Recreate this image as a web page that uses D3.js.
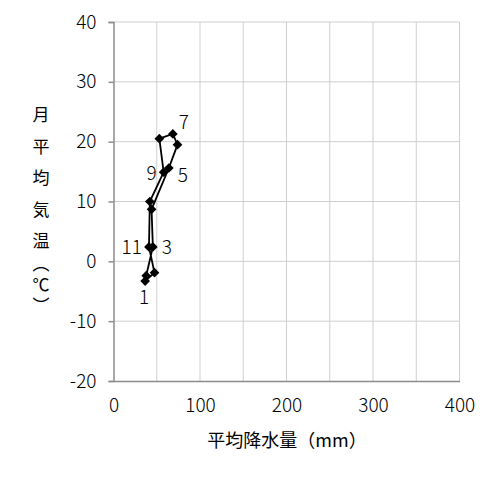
<!DOCTYPE html>
<html>
<head>
<meta charset="utf-8">
<script src="https://cdn.jsdelivr.net/npm/d3@7"></script>
<style>
body { margin: 0; background: #fff; }
text { font-family: "Noto Sans CJK JP", "Noto Sans", sans-serif; fill: #000; font-weight: 300; }
</style>
</head>
<body>
<div id="chart"></div>
<script>
// monthly values, Jan..Dec
var months = [1, 2, 3, 4, 5, 6, 7, 8, 9, 10, 11, 12];
var rain = [36.6, 37.8, 45.5, 44, 64, 74, 68.6, 53, 58, 42, 41, 47.4];
var temp = [-3.3, -2.4, 2.4, 8.7, 15.6, 19.5, 21.3, 20.5, 14.9, 10, 2.4, -1.9];
var labeled = [1, 3, 5, 7, 9, 11];
var xTicks = [0, 100, 200, 300, 400];
var yTicks = [-20, -10, 0, 10, 20, 30, 40];
var yTitle = ["月平均気温", "（℃）"];
var xTitle = "平均降水量（mm）";

var width = 500, height = 482;
var mLeft = 113.5, mRight = 459.5, mTop = 22, mBottom = 381;

var svg = d3.select("#chart").append("svg")
    .attr("width", width)
    .attr("height", height);

var x = d3.scaleLinear().domain([0, 400]).range([mLeft, mRight]);
var y = d3.scaleLinear().domain([-20, 40]).range([mBottom, mTop]);

// grid
svg.append("g").selectAll("line")
    .data(d3.range(50, 401, 50))
    .join("line")
    .attr("x1", d => x(d)).attr("x2", d => x(d))
    .attr("y1", mTop).attr("y2", mBottom)
    .style("stroke", "#cfcfcf").style("stroke-width", 1);

svg.append("g").selectAll("line")
    .data(d3.range(-10, 41, 10))
    .join("line")
    .attr("x1", mLeft).attr("x2", mRight)
    .attr("y1", d => y(d)).attr("y2", d => y(d))
    .style("stroke", "#cfcfcf").style("stroke-width", 1);

// axes
var yAxis = svg.append("g")
    .attr("transform", "translate(" + mLeft + ",0)")
    .call(d3.axisLeft(y).tickValues(yTicks).tickSize(5).tickPadding(12)
      .tickFormat(d => String(d)));
var xAxis = svg.append("g")
    .attr("transform", "translate(0," + mBottom + ")")
    .call(d3.axisBottom(x).tickValues(d3.range(0, 401, 50)).tickSize(0).tickPadding(18)
      .tickFormat(d => xTicks.indexOf(d) >= 0 ? String(d) : ""));

[yAxis, xAxis].forEach(function(a) {
  a.select(".domain").style("stroke", "#8c8c8c").style("stroke-width", 1.5);
  a.selectAll(".tick line").style("stroke", "#8c8c8c").style("stroke-width", 1.5);
  a.selectAll("text").style("font-size", "19px").style("fill", "#000")
    .style("font-family", "'Noto Sans CJK JP', sans-serif").style("font-weight", 300);
});

// the loop, closed back to January
var line = d3.line()
    .x(d => x(rain[d - 1]))
    .y(d => y(temp[d - 1]));

svg.append("path")
    .datum(months.concat([months[0]]))
    .attr("d", line)
    .style("fill", "none")
    .style("stroke", "#000")
    .style("stroke-width", 1.8);

svg.append("g").selectAll("path")
    .data(months)
    .join("path")
    .attr("d", d3.symbol(d3.symbolDiamond2, 60))
    .attr("transform", d => "translate(" + x(rain[d - 1]) + "," + y(temp[d - 1]) + ")")
    .style("fill", "#000");

// month labels
var lblPos = {1: [-1, 23, "middle"], 3: [9, 7, "start"], 5: [9, 14, "start"],
              7: [6, -5, "start"], 9: [-7, 8, "end"], 11: [-7, 7, "end"]};
svg.append("g").selectAll("text")
    .data(labeled)
    .join("text")
    .attr("x", d => x(rain[d - 1]) + lblPos[d][0])
    .attr("y", d => y(temp[d - 1]) + lblPos[d][1])
    .attr("text-anchor", d => lblPos[d][2])
    .style("font-size", "19px")
    .text(d => d);

// y title, written top to bottom
var yTitleTop = [106.5, 255];
svg.append("g").selectAll("text")
    .data(yTitle)
    .join("text")
    .attr("x", 41)
    .attr("y", (d, i) => yTitleTop[i])
    .style("writing-mode", "vertical-rl")
    .style("font-size", "17px")
    .style("letter-spacing", (d, i) => i == 0 ? "14.5px" : "4px")
    .style("font-weight", 400)
    .text(d => d);

svg.append("text")
    .attr("x", 287)
    .attr("y", 447)
    .attr("text-anchor", "middle")
    .style("font-size", "18px")
    .style("font-weight", 400)
    .text(xTitle);
</script>
</body>
</html>
